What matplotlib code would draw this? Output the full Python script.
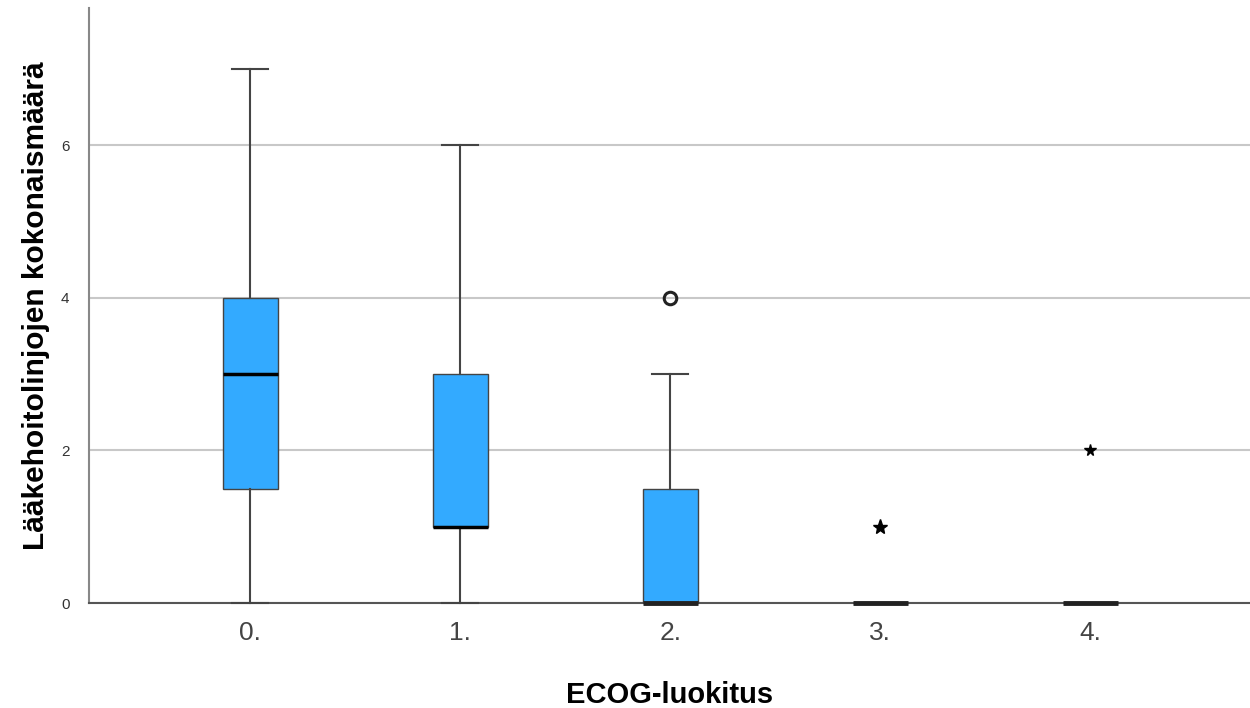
import numpy as np
import matplotlib.pyplot as plt

plt.rcParams['font.family'] = ['Liberation Sans', 'DejaVu Sans']

# ECOG groups and box statistics
groups = ["0.", "1.", "2.", "3.", "4."]
q1 = [1.5, 1.0, 0.0, 0.0, 0.0]
med = [3.0, 1.0, 0.0, 0.0, 0.0]
q3 = [4.0, 3.0, 1.5, 0.0, 0.0]
whislo = [0.0, 0.0, 0.0, 0.0, 0.0]
whishi = [7.0, 6.0, 3.0, 0.0, 0.0]
outliers = [[], [], [4.0], [], []]   # circles
extremes = [[], [], [], [1.0], [2.0]]  # stars

stats = []
for i in range(len(groups)):
    stats.append(dict(label=groups[i], q1=q1[i], med=med[i], q3=q3[i],
                      whislo=whislo[i], whishi=whishi[i], fliers=outliers[i]))

fig = plt.figure(figsize=(12.5, 7.08), dpi=100)
ax = fig.add_axes([0.0712, 0.1483, 0.9288, 0.8404])

pos = np.arange(len(groups))
bp = ax.bxp(stats, positions=pos, widths=0.262, patch_artist=True, showfliers=True,
            boxprops=dict(facecolor="#33aaff", edgecolor="#444444", linewidth=1),
            medianprops=dict(color="black", linewidth=2.5),
            whiskerprops=dict(color="#444444", linewidth=1.5),
            capprops=dict(color="#444444", linewidth=1.5),
            capwidths=0.17,
            flierprops=dict(marker="o", markerfacecolor="none", markeredgecolor="#222222",
                            markersize=9, markeredgewidth=2.2))
for key in ["boxes", "medians", "whiskers", "caps", "fliers"]:
    for art in bp[key]:
        art.set_clip_on(False)
        art.set_zorder(5)
for m in bp["medians"][2:]:
    m.set_linewidth(3.5)
    m.set_color("#222222")
ax.set_axisbelow(True)

for i, ex in enumerate(extremes):
    for v in ex:
        ax.plot(pos[i], v, marker="*", color="black", linestyle="none",
                markersize=11 if i == 3 else 8.5, zorder=6)

ax.set_xlim(-0.767, 4.76)
ax.set_ylim(0, 7.8)
ax.set_yticks([0, 2, 4, 6])
ax.yaxis.grid(True, color="#c8c8c8", linewidth=1.5)
ax.tick_params(axis="y", length=0, labelsize=11, labelcolor="#333333", pad=14)
ax.tick_params(axis="x", length=0, labelsize=19, labelcolor="#444444", pad=13)
ax.set_xticks(pos)
ax.set_xticklabels(groups)

for s in ["top", "right"]:
    ax.spines[s].set_visible(False)
ax.spines["left"].set_color("#888888")
ax.spines["bottom"].set_color("#555555")
ax.spines["left"].set_linewidth(1.5)
ax.spines["bottom"].set_linewidth(1.5)

ax.set_xlabel("ECOG-luokitus", fontsize=21, fontweight="bold", labelpad=26)
ax.set_ylabel("Lääkehoitolinjojen kokonaismäärä", fontsize=21.5, fontweight="bold", labelpad=8)

fig.savefig("out.png", dpi=100)
